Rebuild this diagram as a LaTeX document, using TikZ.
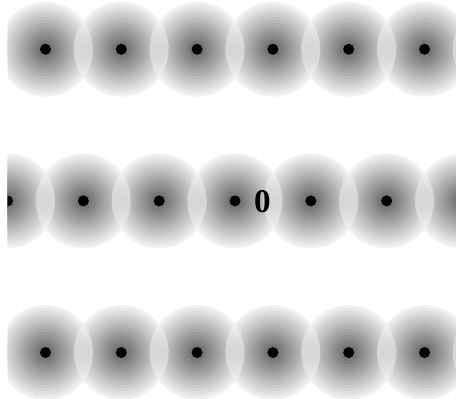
\documentclass[tikz,border=0pt]{standalone}
\usepackage{fontspec}
\setmainfont{Liberation Serif}

% --- Ladungswolke aus Ringen ---
\newcommand{\cloudrings}[1]{%
  \foreach \k in {\n,...,1} {
    \pgfmathsetmacro\g{6 + 54*(\n-\k)/(\n-1)}
    \fill[black!\g] (#1) circle ({\R*\k/\n});
  }%
}
% --- dieselbe Wolke als einzelne Kreisringe (fuer Ueberlagerung) ---
\newcommand{\cloudannuli}[1]{%
  \foreach \k in {\n,...,1} {
    \pgfmathsetmacro\g{6 + 54*(\n-\k)/(\n-1)}
    \fill[black!\g, even odd rule] (#1) circle ({\R*\k/\n}) circle ({\R*(\k-1)/\n});
  }%
}

\begin{document}
\begin{tikzpicture}[
    site/.style={fill=black},
]
\useasboundingbox (-6.2,-5.2) rectangle (5.83,5.3);
\clip (-6,-5.2) rectangle (5.83,5.3);

% --- Gitterparameter ---
\def\a{2}       % Gitterabstand
\def\R{1.25}    % Radius der Wolke
\def\n{16}      % Anzahl der Ringe

% --- Gitterreihen mit Ladungswolken ---
\foreach \y/\off in {4/1, 0/0, -4/1} {
  \foreach \i in {-3,...,3} {
    \coordinate (c) at ({\i*\a + \off}, \y);
    \cloudrings{c}
  }
  % Ueberlappung: linke Wolke halb durchscheinend
  \foreach \i in {-3,...,2} {
    \coordinate (l) at ({\i*\a + \off}, \y);
    \coordinate (r) at ({(\i+1)*\a + \off}, \y);
    \begin{scope}[fill opacity=0.5]
      \clip (r) circle (\R);
      \cloudannuli{l}
    \end{scope}
  }
}

% --- Gitterplaetze ---
\foreach \y/\off in {4/1, 0/0, -4/1}
  \foreach \i in {-3,...,3}
    \fill[site] ({\i*\a + \off}, \y) circle (0.145);

% --- Ursprung ---
\node[font=\Huge\bfseries] (origin) at (0.72,-0.03) {0};

\end{tikzpicture}
\end{document}
